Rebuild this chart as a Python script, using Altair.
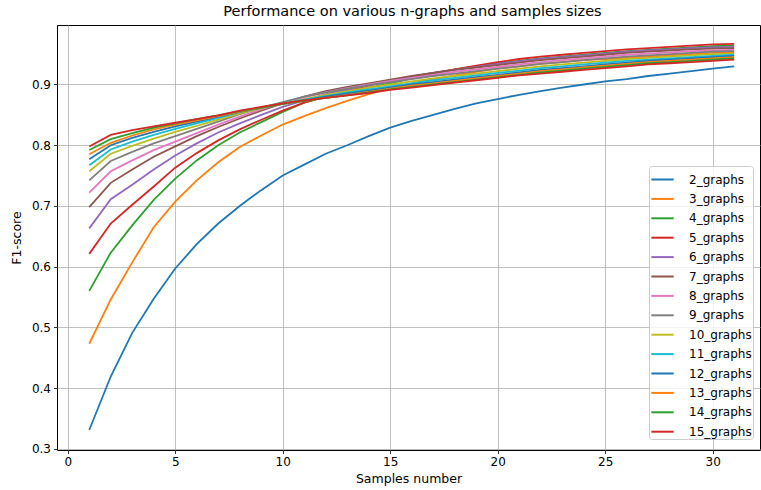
import altair as alt
import pandas as pd

samples = list(range(1, 32))

series_names = ["2_graphs", "3_graphs", "4_graphs", "5_graphs", "6_graphs", "7_graphs", "8_graphs",
                "9_graphs", "10_graphs", "11_graphs", "12_graphs", "13_graphs", "14_graphs", "15_graphs"]

g2 = [0.331, 0.419, 0.491, 0.547, 0.597, 0.637, 0.671, 0.700, 0.726, 0.750, 0.768, 0.786, 0.800, 0.815, 0.829,
      0.840, 0.850, 0.860, 0.869, 0.876, 0.883, 0.889, 0.895, 0.900, 0.905, 0.909, 0.914, 0.918, 0.922, 0.926, 0.930]
g3 = [0.473, 0.546, 0.607, 0.665, 0.707, 0.742, 0.772, 0.797, 0.816, 0.834, 0.848, 0.861, 0.873, 0.884, 0.894,
      0.902, 0.909, 0.915, 0.921, 0.926, 0.930, 0.934, 0.937, 0.940, 0.942, 0.944, 0.946, 0.948, 0.950, 0.952, 0.953]
g4 = [0.560, 0.623, 0.668, 0.710, 0.745, 0.775, 0.800, 0.821, 0.838, 0.855, 0.870, 0.880, 0.888, 0.895, 0.902,
      0.910, 0.918, 0.925, 0.930, 0.935, 0.939, 0.943, 0.946, 0.949, 0.952, 0.955, 0.957, 0.959, 0.961, 0.963, 0.964]
g5 = [0.621, 0.671, 0.702, 0.732, 0.763, 0.787, 0.808, 0.826, 0.842, 0.857, 0.870, 0.880, 0.890, 0.898, 0.906,
      0.913, 0.919, 0.925, 0.931, 0.937, 0.942, 0.946, 0.949, 0.952, 0.955, 0.958, 0.960, 0.962, 0.964, 0.966, 0.967]
g6 = [0.663, 0.711, 0.735, 0.760, 0.783, 0.803, 0.821, 0.836, 0.850, 0.863, 0.874, 0.884, 0.892, 0.899, 0.906,
      0.913, 0.919, 0.924, 0.929, 0.934, 0.938, 0.942, 0.945, 0.948, 0.951, 0.954, 0.956, 0.958, 0.960, 0.961, 0.962]
g7 = [0.698, 0.738, 0.760, 0.781, 0.798, 0.815, 0.830, 0.844, 0.857, 0.869, 0.880, 0.889, 0.896, 0.902, 0.908,
      0.914, 0.919, 0.924, 0.928, 0.932, 0.936, 0.940, 0.943, 0.946, 0.949, 0.952, 0.954, 0.956, 0.958, 0.959, 0.960]
g8 = [0.722, 0.757, 0.775, 0.792, 0.806, 0.820, 0.834, 0.847, 0.859, 0.870, 0.879, 0.887, 0.894, 0.900, 0.906,
      0.911, 0.916, 0.921, 0.925, 0.929, 0.933, 0.937, 0.940, 0.943, 0.946, 0.949, 0.951, 0.953, 0.955, 0.956, 0.957]
g9 = [0.742, 0.774, 0.789, 0.803, 0.815, 0.827, 0.839, 0.851, 0.862, 0.871, 0.880, 0.887, 0.893, 0.899, 0.904,
      0.909, 0.914, 0.918, 0.922, 0.926, 0.930, 0.934, 0.937, 0.940, 0.943, 0.946, 0.948, 0.950, 0.952, 0.954, 0.955]
g10 = [0.757, 0.786, 0.799, 0.811, 0.822, 0.832, 0.842, 0.852, 0.861, 0.869, 0.876, 0.883, 0.889, 0.895, 0.900,
       0.905, 0.910, 0.914, 0.918, 0.922, 0.926, 0.930, 0.933, 0.936, 0.939, 0.942, 0.944, 0.946, 0.948, 0.950, 0.951]
g11 = [0.767, 0.793, 0.806, 0.817, 0.827, 0.836, 0.845, 0.854, 0.862, 0.869, 0.875, 0.881, 0.887, 0.892, 0.897,
       0.902, 0.907, 0.911, 0.915, 0.919, 0.923, 0.927, 0.930, 0.933, 0.936, 0.939, 0.941, 0.943, 0.945, 0.947, 0.949]
g12 = [0.777, 0.800, 0.812, 0.822, 0.831, 0.839, 0.847, 0.855, 0.862, 0.868, 0.874, 0.880, 0.885, 0.890, 0.895,
       0.900, 0.904, 0.908, 0.912, 0.916, 0.920, 0.924, 0.927, 0.930, 0.933, 0.936, 0.939, 0.941, 0.943, 0.945, 0.947]
g13 = [0.785, 0.804, 0.816, 0.826, 0.834, 0.841, 0.848, 0.855, 0.862, 0.868, 0.873, 0.878, 0.883, 0.888, 0.893,
       0.898, 0.902, 0.906, 0.910, 0.914, 0.918, 0.922, 0.925, 0.928, 0.931, 0.934, 0.937, 0.939, 0.941, 0.943, 0.945]
g14 = [0.792, 0.810, 0.820, 0.829, 0.836, 0.843, 0.849, 0.856, 0.862, 0.868, 0.873, 0.878, 0.882, 0.887, 0.892,
       0.896, 0.900, 0.904, 0.908, 0.912, 0.916, 0.920, 0.923, 0.926, 0.929, 0.932, 0.935, 0.937, 0.939, 0.941, 0.943]
g15 = [0.798, 0.817, 0.825, 0.831, 0.837, 0.843, 0.849, 0.857, 0.863, 0.869, 0.874, 0.878, 0.882, 0.886, 0.891,
       0.895, 0.899, 0.903, 0.907, 0.911, 0.915, 0.918, 0.921, 0.924, 0.927, 0.930, 0.933, 0.935, 0.937, 0.939, 0.941]

series_values = [g2, g3, g4, g5, g6, g7, g8, g9, g10, g11, g12, g13, g14, g15]

colors = ["#1f77b4", "#ff7f0e", "#2ca02c", "#d62728", "#9467bd", "#8c564b", "#e377c2",
          "#7f7f7f", "#bcbd22", "#17becf", "#1f77b4", "#ff7f0e", "#2ca02c", "#d62728"]

x_ticks = [0, 5, 10, 15, 20, 25, 30]
y_ticks = [0.3, 0.4, 0.5, 0.6, 0.7, 0.8, 0.9]

rows = []
for order, (name, vals) in enumerate(zip(series_names, series_values)):
    for s, v in zip(samples, vals):
        rows.append({"samples": s, "f1": v, "series": name, "order": order})
df = pd.DataFrame(rows)

FONT = "DejaVu Sans"

chart = alt.Chart(df).mark_line(strokeWidth=1.8, clip=True).encode(
    x=alt.X("samples:Q",
            scale=alt.Scale(domain=[-0.5, 32.2], nice=False, zero=False),
            axis=alt.Axis(values=x_ticks, title="Samples number", format="d")),
    y=alt.Y("f1:Q",
            scale=alt.Scale(domain=[0.298, 0.998], nice=False, zero=False),
            axis=alt.Axis(values=y_ticks, title="F1-score", format=".1f")),
    color=alt.Color("series:N",
                    scale=alt.Scale(domain=series_names, range=colors),
                    legend=alt.Legend(title=None, orient="none", legendX=592, legendY=141,
                                      symbolType="stroke", symbolSize=500, symbolStrokeWidth=2,
                                      labelFont=FONT, labelFontSize=12, labelColor="black",
                                      rowPadding=0.4, padding=1, labelOffset=14,
                                      fillColor="rgba(255,255,255,0.8)", strokeColor="#cccccc",
                                      cornerRadius=3)),
    detail="order:O",
).properties(
    width=703,
    height=425,
    title=alt.TitleParams("Performance on various n-graphs and samples sizes",
                          font=FONT, fontSize=14.5, fontWeight="normal", color="black",
                          anchor="middle", dx=4, offset=6),
    autosize=alt.AutoSizeParams(type="none"),
    padding={"left": 57, "top": 25, "right": 1, "bottom": 40},
).configure_view(
    stroke="black", strokeWidth=1
).configure_axis(
    domain=False, grid=True, gridColor="#b0b0b0", gridWidth=0.8,
    tickColor="black", tickSize=3.5, tickWidth=0.8,
    labelFont=FONT, labelFontSize=12, labelColor="black", labelPadding=3,
    titleFont=FONT, titleFontSize=12.5, titleFontWeight="normal", titleColor="black",
).configure_axisX(titlePadding=5).configure_axisY(titlePadding=8)

chart.save("out.html", embed_options={"renderer": "svg", "actions": False})
